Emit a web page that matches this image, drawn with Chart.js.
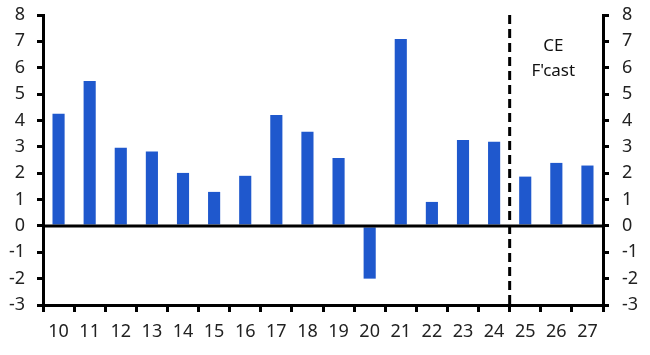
<!DOCTYPE html>
<html>
<head>
<meta charset="utf-8">
<script src="https://cdn.jsdelivr.net/npm/chart.js@4.4.1/dist/chart.umd.min.js"></script>
<style>
html,body{margin:0;padding:0;background:#fff;}
#wrap{width:650px;height:355px;position:relative;}
</style>
</head>
<body>
<div id="wrap"><canvas id="c" width="650" height="355"></canvas></div>
<script>
const categories = ["10","11","12","13","14","15","16","17","18","19","20","21","22","23","24","25","26","27"];
const growth = [4.25, 5.5, 2.96, 2.82, 2.01, 1.29, 1.9, 4.21, 3.57, 2.58, -2.0, 7.09, 0.91, 3.26, 3.19, 1.87, 2.39, 2.29];
const forecastStartIndex = 15;
const annotationLines = ["CE", "F'cast"];
const yMin = -3, yMax = 8;

const FONT = "'Noto Sans', 'Open Sans', sans-serif";

const overlay = {
  id: 'overlay',
  afterDatasetsDraw(chart) {
    const ctx = chart.ctx;
    const x = chart.scales.x, y = chart.scales.y;
    const area = chart.chartArea;
    ctx.save();
    // zero line
    const y0 = y.getPixelForValue(0);
    ctx.strokeStyle = '#000';
    ctx.lineWidth = 3;
    ctx.beginPath();
    ctx.moveTo(area.left, y0);
    ctx.lineTo(area.right, y0);
    ctx.stroke();
    // forecast divider
    const xd = (x.getPixelForValue(forecastStartIndex - 1) + x.getPixelForValue(forecastStartIndex)) / 2;
    ctx.setLineDash([9, 5]);
    ctx.lineWidth = 3;
    ctx.beginPath();
    ctx.moveTo(xd, area.top);
    ctx.lineTo(xd, area.bottom);
    ctx.stroke();
    ctx.setLineDash([]);
    // annotation text
    ctx.fillStyle = '#111';
    ctx.font = "17px " + FONT;
    ctx.textAlign = 'center';
    ctx.textBaseline = 'middle';
    const xt = x.getPixelForValue(forecastStartIndex + 1) - 3;
    ctx.fillText(annotationLines[0], xt, y.getPixelForValue(6.82));
    ctx.fillText(annotationLines[1], xt, y.getPixelForValue(5.88));
    ctx.restore();
  }
};

const tickFont = { family: FONT, size: 18 };

function fixVertical(width) {
  return s => { s.width = width; s.paddingTop = 0; s.paddingBottom = 0; };
}

new Chart(document.getElementById('c'), {
  type: 'bar',
  data: {
    labels: categories,
    datasets: [{
      data: growth,
      backgroundColor: '#1f58cd',
      borderWidth: 0,
      barPercentage: 0.39,
      categoryPercentage: 1.0
    }]
  },
  options: {
    responsive: false,
    animation: false,
    devicePixelRatio: 1,
    layout: { padding: { top: 15, left: 0, right: 0, bottom: 0 } },
    plugins: { legend: { display: false }, tooltip: { enabled: false } },
    scales: {
      x: {
        grid: { display: true, drawOnChartArea: false, offset: true, tickLength: 7, tickWidth: 3, tickColor: '#000', color: '#000', lineWidth: 3 },
        border: { display: true, color: '#000', width: 3 },
        ticks: { color: '#222', font: tickFont, padding: 9, maxRotation: 0, autoSkip: false },
        afterFit: s => { s.height = 50; s.paddingLeft = 0; s.paddingRight = 0; }
      },
      y: {
        position: 'left',
        min: yMin, max: yMax,
        grid: { display: true, drawOnChartArea: false, tickLength: 6, tickWidth: 3, tickColor: '#000', color: '#000', lineWidth: 3 },
        border: { display: true, color: '#000', width: 3 },
        ticks: { stepSize: 1, color: '#222', font: tickFont, padding: 12 },
        afterFit: fixVertical(43)
      },
      y2: {
        position: 'right',
        min: yMin, max: yMax,
        grid: { display: true, drawOnChartArea: false, tickLength: 6, tickWidth: 3, tickColor: '#000', color: '#000', lineWidth: 3 },
        border: { display: true, color: '#000', width: 3 },
        ticks: { stepSize: 1, color: '#222', font: tickFont, padding: 13 },
        afterFit: fixVertical(47)
      }
    }
  },
  plugins: [overlay]
});
</script>
</body>
</html>
